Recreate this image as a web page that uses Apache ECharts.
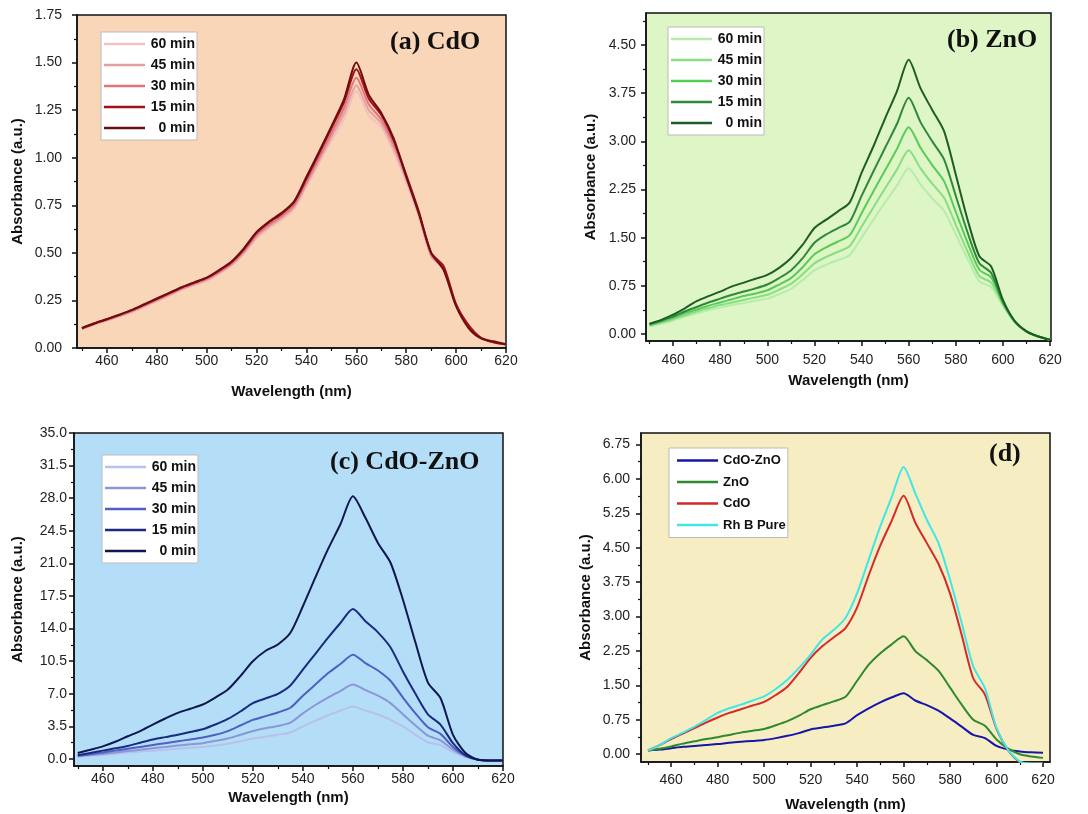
<!DOCTYPE html>
<html>
<head>
    <meta charset="utf-8">
    <title>Absorbance spectra</title>
    <script src="https://cdn.jsdelivr.net/npm/echarts@6/dist/echarts.min.js"></script>
    <style>
        body { margin: 0; background: #fff; }
        #container { width: 1088px; height: 814px; }
    </style>
</head>
<body>
<div id="container"></div>
<script type="text/javascript">

    // wavelength (nm)
    var waves = [450,455,460,465,470,475,480,485,490,495,500,505,510,515,520,525,530,535,540,545,
                 550,555,560,565,570,575,580,585,590,595,600,605,610,615,620];

    // (a) CdO
    var a60 = [0.098,0.123,0.144,0.165,0.189,0.217,0.245,0.275,0.305,0.33,0.354,0.39,0.432,0.496,0.575,0.628,0.673,0.728,0.848,0.97,1.09,1.20,1.35,1.22,1.16,1.03,0.87,0.69,0.48,0.41,0.22,0.116,0.052,0.03,0.018];
    var a45 = [0.1,0.125,0.146,0.168,0.192,0.22,0.249,0.279,0.309,0.334,0.358,0.395,0.438,0.503,0.585,0.638,0.683,0.74,0.86,0.985,1.11,1.23,1.38,1.25,1.18,1.05,0.885,0.70,0.485,0.415,0.222,0.117,0.052,0.03,0.018];
    var a30 = [0.102,0.127,0.148,0.17,0.195,0.224,0.253,0.283,0.313,0.338,0.363,0.40,0.444,0.51,0.595,0.648,0.693,0.75,0.875,1.0,1.13,1.26,1.42,1.28,1.20,1.07,0.90,0.71,0.49,0.42,0.225,0.118,0.052,0.03,0.018];
    var a15 = [0.104,0.129,0.151,0.174,0.199,0.228,0.258,0.288,0.318,0.343,0.368,0.407,0.452,0.52,0.605,0.66,0.705,0.765,0.89,1.02,1.155,1.29,1.465,1.31,1.225,1.09,0.91,0.72,0.50,0.43,0.23,0.12,0.053,0.03,0.018];
    var a0  = [0.105,0.13,0.152,0.175,0.20,0.23,0.26,0.29,0.32,0.345,0.37,0.41,0.455,0.525,0.61,0.665,0.71,0.77,0.90,1.03,1.165,1.305,1.50,1.33,1.235,1.10,0.90,0.71,0.50,0.41,0.22,0.105,0.05,0.035,0.02];

    // (b) ZnO
    var b60 = [0.12,0.16,0.21,0.27,0.32,0.37,0.41,0.45,0.48,0.52,0.55,0.62,0.70,0.84,0.99,1.08,1.15,1.23,1.50,1.78,2.05,2.31,2.58,2.33,2.11,1.92,1.55,1.17,0.82,0.73,0.44,0.18,0.04,-0.04,-0.09];
    var b45 = [0.13,0.18,0.23,0.29,0.35,0.40,0.45,0.49,0.53,0.57,0.61,0.69,0.78,0.93,1.10,1.20,1.28,1.37,1.67,1.97,2.27,2.56,2.86,2.58,2.34,2.12,1.70,1.28,0.90,0.80,0.46,0.19,0.04,-0.04,-0.09];
    var b30 = [0.14,0.19,0.25,0.32,0.38,0.44,0.49,0.54,0.59,0.63,0.68,0.77,0.87,1.04,1.24,1.35,1.44,1.54,1.88,2.22,2.55,2.88,3.22,2.90,2.63,2.38,1.90,1.42,1.00,0.88,0.48,0.19,0.04,-0.04,-0.09];
    var b15 = [0.15,0.21,0.27,0.35,0.42,0.49,0.55,0.61,0.66,0.71,0.77,0.87,0.99,1.18,1.42,1.55,1.65,1.75,2.15,2.53,2.90,3.27,3.68,3.30,3.00,2.72,2.15,1.58,1.10,0.95,0.50,0.20,0.04,-0.04,-0.09];
    var b0  = [0.16,0.22,0.30,0.40,0.51,0.59,0.66,0.74,0.80,0.86,0.92,1.03,1.18,1.39,1.65,1.78,1.91,2.05,2.51,2.92,3.36,3.78,4.27,3.83,3.49,3.16,2.48,1.78,1.21,1.05,0.53,0.20,0.04,-0.04,-0.09];

    // (c) CdO-ZnO
    var c60 = [0.25,0.35,0.45,0.57,0.7,0.8,0.9,1.0,1.1,1.2,1.3,1.45,1.65,1.9,2.2,2.4,2.6,2.85,3.5,4.1,4.7,5.2,5.65,5.2,4.8,4.2,3.5,2.6,1.8,1.5,0.75,0.25,-0.07,-0.15,-0.15];
    var c45 = [0.3,0.42,0.55,0.7,0.85,1.0,1.15,1.3,1.45,1.58,1.7,1.95,2.2,2.6,3.0,3.3,3.55,3.9,4.9,5.8,6.6,7.3,8.0,7.4,6.8,6.0,4.8,3.6,2.5,2.0,1.0,0.3,-0.07,-0.15,-0.15];
    var c30 = [0.35,0.52,0.7,0.9,1.1,1.3,1.5,1.7,1.9,2.1,2.3,2.6,3.0,3.6,4.2,4.6,5.0,5.5,6.8,8.0,9.2,10.2,11.2,10.3,9.5,8.4,6.6,4.9,3.4,2.7,1.3,0.35,-0.07,-0.15,-0.15];
    var c15 = [0.4,0.65,0.9,1.15,1.4,1.75,2.1,2.35,2.6,2.9,3.2,3.7,4.3,5.1,6.0,6.5,7.0,7.9,9.6,11.3,13.0,14.6,16.1,14.8,13.6,12.0,9.4,7.0,4.8,3.7,1.7,0.4,-0.07,-0.15,-0.15];
    var c0  = [0.65,1.0,1.36,1.85,2.44,3.0,3.7,4.35,4.95,5.4,5.85,6.6,7.46,8.9,10.5,11.6,12.3,13.55,16.4,19.5,22.5,25.2,28.2,25.9,23.2,21.1,17.1,12.5,8.2,6.55,2.6,0.65,-0.07,-0.15,-0.15];

    // (d) comparison
    var dMix = [0.08,0.1,0.13,0.16,0.18,0.2,0.22,0.25,0.27,0.29,0.31,0.35,0.4,0.46,0.54,0.58,0.62,0.67,0.85,1.0,1.13,1.24,1.33,1.17,1.07,0.95,0.78,0.6,0.42,0.35,0.18,0.1,0.06,0.04,0.03];
    var dZnO = [0.08,0.12,0.17,0.23,0.28,0.33,0.37,0.42,0.47,0.51,0.55,0.63,0.72,0.84,0.98,1.07,1.15,1.25,1.6,1.95,2.2,2.4,2.57,2.25,2.05,1.82,1.45,1.08,0.75,0.62,0.32,0.12,0.0,-0.05,-0.08];
    var dCdO = [0.08,0.2,0.33,0.45,0.57,0.69,0.8,0.9,0.98,1.06,1.14,1.29,1.47,1.77,2.1,2.35,2.55,2.75,3.2,3.9,4.55,5.1,5.63,5.05,4.6,4.15,3.5,2.6,1.65,1.3,0.55,0.08,-0.17,-0.2,-0.2];
    var dRhB = [0.08,0.2,0.35,0.47,0.6,0.75,0.9,1.0,1.08,1.17,1.26,1.42,1.62,1.88,2.17,2.5,2.71,2.97,3.51,4.24,4.97,5.62,6.26,5.69,5.11,4.6,3.8,2.86,1.91,1.44,0.57,0.09,-0.16,-0.2,-0.2];

    var timeNames = ['60 min', '45 min', '30 min', '15 min', '0 min'];
    var mixNames = ['CdO-ZnO', 'ZnO', 'CdO', 'Rh B Pure'];

    // tick labels
    var xTicks = [460,480,500,520,540,560,580,600,620];
    var xMinor = [450,470,490,510,530,550,570,590,610];
    var yTicksA = [0,0.25,0.5,0.75,1,1.25,1.5,1.75];
    var yMinorA = [0.125,0.375,0.625,0.875,1.125,1.375,1.625];
    var yTicksB = [0,0.75,1.5,2.25,3,3.75,4.5];
    var yMinorB = [0.375,1.125,1.875,2.625,3.375,4.125,4.875];
    var yTicksC = [0,3.5,7,10.5,14,17.5,21,24.5,28,31.5,35];
    var yMinorC = [1.75,5.25,8.75,12.25,15.75,19.25,22.75,26.25,29.75,33.25];
    var yTicksD = [0,0.75,1.5,2.25,3,3.75,4.5,5.25,6,6.75];
    var yMinorD = [0.375,1.125,1.875,2.625,3.375,4.125,4.875,5.625,6.375];

    var panels = [
        {key: 'a', title: '(a) CdO', bg: '#FAD6B9', grid: {left: 77, top: 15, width: 429, height: 333},
            x: [448, 620], y: [0, 1.75], yTicks: yTicksA, yMinor: yMinorA, dec: 2,
            xMargin: 6, xGap: 36, yMargin: 15, yGap: 52,
            titlePos: {left: 390, top: 29},
            legend: {left: 101, top: 32, width: 45, align: 'right', size: 14, gap: 7, pad: [5, 2, 5, 3]},
            names: timeNames, data: [a60, a45, a30, a15, a0],
            colors: ['#F2C0BE', '#E3A0A3', '#E2747A', '#A41018', '#6B0E12']},
        {key: 'b', title: '(b) ZnO', bg: '#DEF5C5', grid: {left: 646, top: 13, width: 405, height: 328},
            x: [448.5, 620.4], y: [-0.11, 5.0], yTicks: yTicksB, yMinor: yMinorB, dec: 2,
            xMargin: 12, xGap: 32, yMargin: 10, yGap: 48,
            titlePos: {left: 947, top: 27},
            legend: {left: 668, top: 27, width: 45, align: 'right', size: 14, gap: 7, pad: [5, 2, 5, 3]},
            names: timeNames, data: [b60, b45, b30, b15, b0],
            colors: ['#B6ECAC', '#88DE82', '#58CC58', '#2E8A3A', '#1E5C28']},
        {key: 'c', title: '(c) CdO-ZnO', bg: '#B4DEF7', grid: {left: 74, top: 433, width: 429, height: 333},
            x: [448.5, 620], y: [-0.75, 35], yTicks: yTicksC, yMinor: yMinorC, dec: 1,
            xMargin: 6, xGap: 24, yMargin: 7, yGap: 49,
            titlePos: {left: 330, top: 449},
            legend: {left: 102, top: 455, width: 45, align: 'right', size: 14, gap: 7, pad: [5, 2, 5, 3]},
            names: timeNames, data: [c60, c45, c30, c15, c0],
            colors: ['#B8C0EC', '#8A96D6', '#4F5FC2', '#1A2A80', '#0F1650']},
        {key: 'd', title: '(d)', bg: '#F6EEC2', grid: {left: 641, top: 433, width: 409, height: 329},
            x: [447, 623], y: [-0.17, 7.0], yTicks: yTicksD, yMinor: yMinorD, dec: 2,
            xMargin: 11, xGap: 35, yMargin: 11, yGap: 48,
            titlePos: {left: 989, top: 441},
            legend: {left: 669, top: 448, width: 58, align: 'left', size: 13, gap: 8.5, pad: [6, 2, 6, 8]},
            names: mixNames, data: [dMix, dZnO, dCdO, dRhB],
            colors: ['#1616A8', '#2E8A2E', '#D42A2A', '#40E6E6']}
    ];

    var axisColor = '#111';
    var font = 'Liberation Sans';

    var option = {
        backgroundColor: '#fff',
        animation: false,
        grid: [], xAxis: [], yAxis: [], series: [], legend: [], title: []
    };

    panels.forEach(function (p, i) {
        option.grid.push({
            left: p.grid.left, top: p.grid.top, width: p.grid.width, height: p.grid.height,
            show: true, backgroundColor: p.bg, borderColor: axisColor, borderWidth: 1.5
        });
        // main x axis
        option.xAxis.push({
            type: 'value', gridIndex: i, min: p.x[0], max: p.x[1], position: 'bottom',
            name: 'Wavelength (nm)', nameLocation: 'middle', nameGap: p.xGap,
            nameTextStyle: {fontFamily: font, fontWeight: 'bold', fontSize: 15, color: '#111'},
            axisLine: {show: true, onZero: false, lineStyle: {color: axisColor, width: 1.5}},
            axisTick: {show: true, length: 5, customValues: xTicks, lineStyle: {color: axisColor, width: 1.5}},
            axisLabel: {customValues: xTicks, margin: p.xMargin, fontFamily: font, fontSize: 14, color: '#222'},
            splitLine: {show: false}
        });
        // minor x ticks
        option.xAxis.push({
            type: 'value', gridIndex: i, min: p.x[0], max: p.x[1], position: 'bottom',
            axisLine: {show: false, onZero: false},
            axisTick: {show: true, length: 3, customValues: xMinor, lineStyle: {color: axisColor, width: 1.2}},
            axisLabel: {show: false},
            splitLine: {show: false}
        });
        // main y axis
        option.yAxis.push({
            type: 'value', gridIndex: i, min: p.y[0], max: p.y[1], position: 'left',
            name: 'Absorbance (a.u.)', nameLocation: 'middle', nameGap: p.yGap,
            nameTextStyle: {fontFamily: font, fontWeight: 'bold', fontSize: 15, color: '#111'},
            axisLine: {show: true, onZero: false, lineStyle: {color: axisColor, width: 1.5}},
            axisTick: {show: true, length: 5, customValues: p.yTicks, lineStyle: {color: axisColor, width: 1.5}},
            axisLabel: {
                customValues: p.yTicks, margin: p.yMargin, fontFamily: font, fontSize: 14, color: '#222',
                formatter: (function (dec) { return function (v) { return Number(v).toFixed(dec); }; })(p.dec)
            },
            splitLine: {show: false}
        });
        // minor y ticks
        option.yAxis.push({
            type: 'value', gridIndex: i, min: p.y[0], max: p.y[1], position: 'left',
            axisLine: {show: false, onZero: false},
            axisTick: {show: true, length: 3, customValues: p.yMinor, lineStyle: {color: axisColor, width: 1.2}},
            axisLabel: {show: false},
            splitLine: {show: false}
        });

        var legendData = [];
        p.names.forEach(function (nm, k) {
            var sname = p.key + ':' + nm;
            legendData.push({name: sname, icon: 'rect'});
            option.series.push({
                name: sname,
                type: 'line',
                xAxisIndex: 2 * i,
                yAxisIndex: 2 * i,
                symbol: 'none',
                smooth: 0.25,
                color: p.colors[k],
                lineStyle: {width: 2, color: p.colors[k]},
                data: waves.map(function (w, j) { return [w, p.data[k][j]]; })
            });
        });

        option.legend.push({
            data: legendData,
            orient: 'vertical',
            left: p.legend.left, top: p.legend.top,
            backgroundColor: '#fff', borderColor: '#bbb', borderWidth: 1,
            padding: p.legend.pad,
            itemWidth: 41, itemHeight: 2.5, itemGap: p.legend.gap,
            selectedMode: false,
            formatter: function (name) { return '{t|' + name.slice(2) + '}'; },
            textStyle: {
                rich: {
                    t: {width: p.legend.width, align: p.legend.align, fontFamily: font, fontWeight: 'bold',
                        fontSize: p.legend.size, lineHeight: 14, color: '#111'}
                }
            }
        });

        option.title.push({
            text: p.title,
            left: p.titlePos.left, top: p.titlePos.top, padding: 0,
            textStyle: {fontFamily: 'Liberation Serif', fontWeight: 'bold', fontSize: 26, color: '#111'}
        });
    });

    var myChart = echarts.init(document.getElementById('container'));
    myChart.setOption(option);

</script>
</body>
</html>
